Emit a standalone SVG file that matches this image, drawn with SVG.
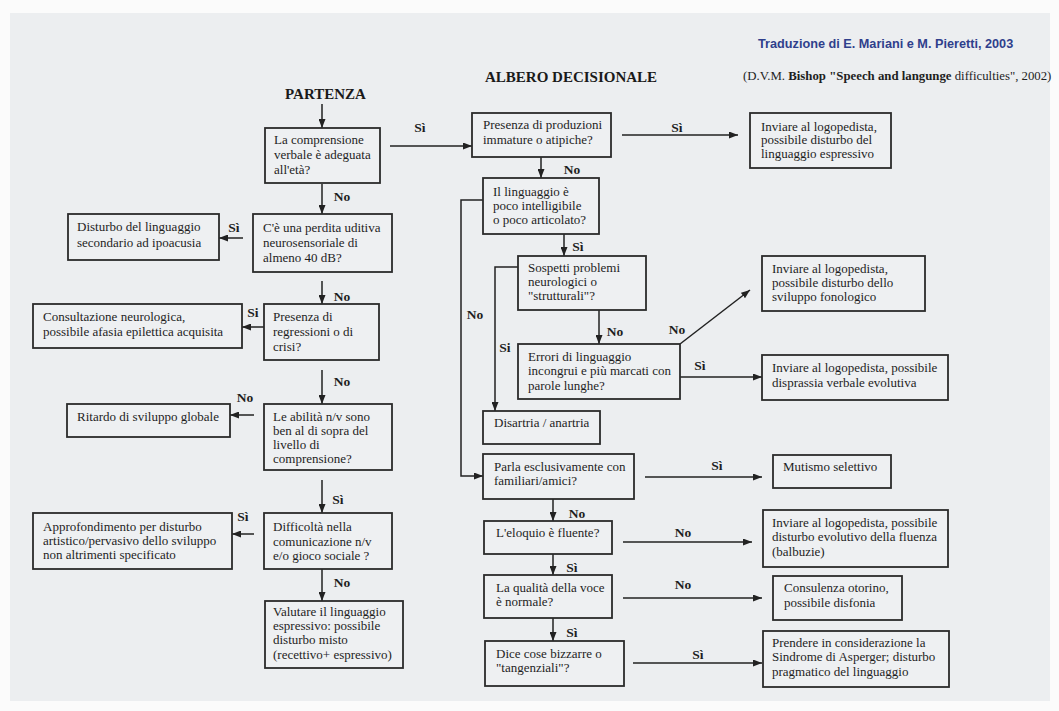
<svg xmlns="http://www.w3.org/2000/svg" width="1059" height="711" viewBox="0 0 1059 711">
<defs>
<marker id="ah" markerWidth="9" markerHeight="7" refX="9" refY="3.5" orient="auto" markerUnits="userSpaceOnUse">
<path d="M0,0 L9,3.5 L0,7 z" fill="#222"/>
</marker>
<style>
.box{fill:#eef0f2;stroke:#2b2b2b;stroke-width:1.8}
.t{font-family:"Liberation Serif","Times New Roman",serif;font-size:13px;fill:#1e1e1e}
.lb{font-family:"Liberation Serif","Times New Roman",serif;font-size:13.5px;font-weight:bold;fill:#1e1e1e;text-anchor:middle}
.c{fill:none;stroke:#222;stroke-width:1.5}
.ca{fill:none;stroke:#222;stroke-width:1.5;marker-end:url(#ah)}
.h{font-family:"Liberation Serif","Times New Roman",serif;font-size:15px;font-weight:bold;fill:#1a1a1a}
</style>
</defs>
<rect x="0" y="0" width="1059" height="711" fill="#fbfbfb"/>
<rect x="10" y="13" width="1040" height="688" fill="#eceef0"/>

<g id="titles">
<text x="758" y="48" font-family="Liberation Sans, Arial, sans-serif" font-size="12.7" font-weight="bold" fill="#2f3f8c">Traduzione di E. Mariani e M. Pieretti, 2003</text>
<text x="743" y="80" font-family="Liberation Serif, Times New Roman, serif" font-size="12.8" fill="#1e1e1e">(D.V.M. <tspan font-weight="bold">Bishop "Speech and langunge</tspan> difficulties", 2002)</text>
<text class="h" x="485" y="82">ALBERO DECISIONALE</text>
<text class="h" x="285" y="99">PARTENZA</text>
</g>

<g id="connectors">
<line class="ca" x1="322" y1="104" x2="322" y2="128"/>
<line class="ca" x1="322" y1="184" x2="322" y2="214"/>
<text class="lb" x="342" y="201">No</text>
<line class="ca" x1="243" y1="238" x2="219" y2="238"/>
<text class="lb" x="234" y="232">Sì</text>
<line class="ca" x1="322" y1="281" x2="322" y2="304"/>
<text class="lb" x="342" y="301">No</text>
<line class="ca" x1="264" y1="327" x2="242" y2="327"/>
<text class="lb" x="253" y="317">Si</text>
<line class="ca" x1="322" y1="370" x2="322" y2="404"/>
<text class="lb" x="342" y="386">No</text>
<line class="ca" x1="254" y1="415" x2="230" y2="415"/>
<text class="lb" x="245" y="402">No</text>
<line class="ca" x1="322" y1="480" x2="322" y2="513"/>
<text class="lb" x="338" y="504">Sì</text>
<line class="ca" x1="254" y1="534" x2="232" y2="534"/>
<text class="lb" x="243" y="521">Sì</text>
<line class="ca" x1="322" y1="569" x2="322" y2="601"/>
<text class="lb" x="342" y="587">No</text>

<line class="ca" x1="390" y1="146" x2="472" y2="146"/>
<text class="lb" x="420" y="132">Sì</text>
<line class="ca" x1="622" y1="135" x2="738" y2="135"/>
<text class="lb" x="677" y="132">Sì</text>
<line class="ca" x1="541" y1="157" x2="541" y2="178"/>
<text class="lb" x="572" y="174">No</text>
<polyline class="ca" points="483,200 461,200 461,476 483,476"/>
<text class="lb" x="475" y="319">No</text>
<line class="ca" x1="564" y1="234" x2="564" y2="256"/>
<text class="lb" x="578" y="251">Sì</text>
<polyline class="ca" points="518,267 495,267 495,411"/>
<text class="lb" x="505" y="352">Si</text>
<line class="ca" x1="599" y1="310" x2="599" y2="344"/>
<text class="lb" x="615" y="336">No</text>
<line class="ca" x1="680" y1="344" x2="750" y2="290"/>
<text class="lb" x="677" y="334">No</text>
<line class="ca" x1="680" y1="377" x2="762" y2="377"/>
<text class="lb" x="700" y="370">Sì</text>
<line class="ca" x1="645" y1="477" x2="762" y2="477"/>
<text class="lb" x="717" y="470">Sì</text>
<line class="ca" x1="553" y1="499" x2="553" y2="521"/>
<text class="lb" x="577" y="518">No</text>
<line class="ca" x1="623" y1="542" x2="752" y2="542"/>
<text class="lb" x="683" y="537">No</text>
<line class="ca" x1="553" y1="554" x2="553" y2="575"/>
<text class="lb" x="572" y="572">Sì</text>
<line class="ca" x1="623" y1="598" x2="762" y2="598"/>
<text class="lb" x="683" y="589">No</text>
<line class="ca" x1="553" y1="618" x2="553" y2="641"/>
<text class="lb" x="572" y="637">Sì</text>
<line class="ca" x1="633" y1="663" x2="762" y2="663"/>
<text class="lb" x="698" y="659">Sì</text>
</g>

<g id="n_comprensione"><rect class="box" x="265" y="128" width="115" height="55"/>
<text class="t" x="274" y="144">La comprensione</text><text class="t" x="274" y="159">verbale è adeguata</text><text class="t" x="274" y="174">all'età?</text></g>
<g id="n_perdita"><rect class="box" x="253" y="214" width="139" height="58"/>
<text class="t" x="263" y="232">C'è una perdita uditiva</text><text class="t" x="263" y="247">neurosensoriale  di</text><text class="t" x="263" y="262">almeno 40 dB?</text></g>
<g id="n_ipoacusia"><rect class="box" x="68" y="214" width="151" height="46"/>
<text class="t" x="77" y="231">Disturbo del linguaggio</text><text class="t" x="77" y="247">secondario ad ipoacusia</text></g>
<g id="n_regressioni"><rect class="box" x="264" y="304" width="115" height="56"/>
<text class="t" x="273" y="321">Presenza di</text><text class="t" x="273" y="336">regressioni o di</text><text class="t" x="273" y="351">crisi?</text></g>
<g id="n_neuro"><rect class="box" x="33" y="304" width="209" height="44"/>
<text class="t" x="43" y="321">Consultazione neurologica,</text><text class="t" x="43" y="336">possibile afasia epilettica acquisita</text></g>
<g id="n_abilita"><rect class="box" x="264" y="404" width="128" height="66"/>
<text class="t" x="273" y="421">Le abilità n/v  sono</text><text class="t" x="273" y="435">ben al di sopra del</text><text class="t" x="273" y="449">livello di</text><text class="t" x="273" y="463">comprensione?</text></g>
<g id="n_ritardo"><rect class="box" x="67" y="404" width="163" height="33"/>
<text class="t" x="77" y="421">Ritardo di sviluppo globale</text></g>
<g id="n_difficolta"><rect class="box" x="264" y="513" width="128" height="56"/>
<text class="t" x="273" y="531">Difficoltà nella</text><text class="t" x="273" y="546">comunicazione n/v</text><text class="t" x="273" y="560">e/o gioco sociale ?</text></g>
<g id="n_approfondimento"><rect class="box" x="33" y="513" width="199" height="56"/>
<text class="t" x="43" y="531">Approfondimento per disturbo</text><text class="t" x="43" y="545">artistico/pervasivo dello sviluppo</text><text class="t" x="43" y="559">non altrimenti specificato</text></g>
<g id="n_valutare"><rect class="box" x="265" y="601" width="138" height="67"/>
<text class="t" x="273" y="616">Valutare il linguaggio</text><text class="t" x="273" y="630">espressivo: possibile</text><text class="t" x="273" y="644">disturbo misto</text><text class="t" x="273" y="659">(recettivo+ espressivo)</text></g>

<g id="n_produzioni"><rect class="box" x="472" y="113" width="139" height="44"/>
<text class="t" x="483" y="129">Presenza di produzioni</text><text class="t" x="483" y="144">immature o atipiche?</text></g>
<g id="n_espressivo"><rect class="box" x="750" y="113" width="141" height="55"/>
<text class="t" x="761" y="131">Inviare al logopedista,</text><text class="t" x="761" y="144">possibile disturbo del</text><text class="t" x="761" y="158">linguaggio espressivo</text></g>
<g id="n_intelligibile"><rect class="box" x="483" y="178" width="116" height="56"/>
<text class="t" x="493" y="196">Il linguaggio è</text><text class="t" x="493" y="210">poco intelligibile</text><text class="t" x="493" y="224">o poco articolato?</text></g>
<g id="n_sospetti"><rect class="box" x="518" y="256" width="128" height="54"/>
<text class="t" x="528" y="272">Sospetti problemi</text><text class="t" x="528" y="286">neurologici o</text><text class="t" x="528" y="300">"strutturali"?</text></g>
<g id="n_errori"><rect class="box" x="518" y="344" width="162" height="55"/>
<text class="t" x="528" y="361">Errori di linguaggio</text><text class="t" x="528" y="375">incongrui e più marcati con</text><text class="t" x="528" y="390">parole lunghe?</text></g>
<g id="n_fonologico"><rect class="box" x="762" y="256" width="163" height="55"/>
<text class="t" x="772" y="273">Inviare al logopedista,</text><text class="t" x="772" y="287">possibile disturbo dello</text><text class="t" x="772" y="301">sviluppo fonologico</text></g>
<g id="n_disprassia"><rect class="box" x="762" y="355" width="186" height="45"/>
<text class="t" x="772" y="372">Inviare al logopedista, possibile</text><text class="t" x="772" y="387">disprassia verbale evolutiva</text></g>
<g id="n_disartria"><rect class="box" x="483" y="411" width="117" height="33"/>
<text class="t" x="494" y="427">Disartria / anartria</text></g>
<g id="n_parla"><rect class="box" x="483" y="454" width="151" height="45"/>
<text class="t" x="494" y="471">Parla esclusivamente con</text><text class="t" x="494" y="485">familiari/amici?</text></g>
<g id="n_mutismo"><rect class="box" x="773" y="455" width="118" height="33"/>
<text class="t" x="783" y="471">Mutismo selettivo</text></g>
<g id="n_eloquio"><rect class="box" x="484" y="521" width="128" height="33"/>
<text class="t" x="496" y="537">L'eloquio è fluente?</text></g>
<g id="n_fluenza"><rect class="box" x="763" y="510" width="185" height="57"/>
<text class="t" x="772" y="527">Inviare al logopedista, possibile</text><text class="t" x="772" y="541">disturbo evolutivo della fluenza</text><text class="t" x="772" y="556">(balbuzie)</text></g>
<g id="n_voce"><rect class="box" x="484" y="575" width="128" height="43"/>
<text class="t" x="496" y="592">La qualità della voce</text><text class="t" x="496" y="606">è normale?</text></g>
<g id="n_otorino"><rect class="box" x="773" y="576" width="129" height="44"/>
<text class="t" x="784" y="592">Consulenza otorino,</text><text class="t" x="784" y="607">possibile disfonia</text></g>
<g id="n_bizzarre"><rect class="box" x="485" y="641" width="139" height="45"/>
<text class="t" x="496" y="658">Dice cose bizzarre o</text><text class="t" x="496" y="672">"tangenziali"?</text></g>
<g id="n_asperger"><rect class="box" x="763" y="631" width="186" height="56"/>
<text class="t" x="772" y="647">Prendere in considerazione la</text><text class="t" x="772" y="661">Sindrome di Asperger; disturbo</text><text class="t" x="772" y="676">pragmatico del linguaggio</text></g>
</svg>
